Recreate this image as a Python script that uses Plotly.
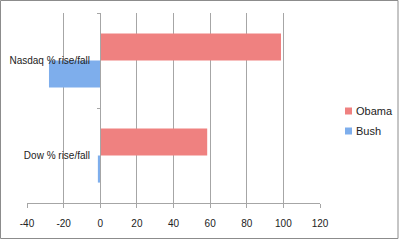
import plotly.graph_objects as go

categories = ["Dow % rise/fall", "Nasdaq % rise/fall"]
bush = [-1.3, -28]
obama = [58.4, 98.7]
x_ticks = [-40, -20, 0, 20, 40, 60, 80, 100, 120]
x_tick_labels = ["-40", "-20", "0", "20", "40", "60", "80", "100", "120"]
series_names = ["Obama", "Bush"]
series_colors = ["#ef8180", "#7eaeec"]

W, H = 400, 241
ml, mr, mt, mb = 27, 80, 13, 38
pw, ph = W - ml - mr, H - mt - mb

family = "Liberation Sans, Arial, sans-serif"
font = dict(family=family, size=10, color="#222")

fig = go.Figure()
fig.add_trace(go.Bar(y=categories, x=bush, name=series_names[1], orientation="h",
                     marker=dict(color=series_colors[1], line=dict(width=0))))
fig.add_trace(go.Bar(y=categories, x=obama, name=series_names[0], orientation="h",
                     marker=dict(color=series_colors[0], line=dict(width=0))))

def px_to_paper_x(px):
    return (px - ml) / pw

def px_to_paper_y(py):
    return (H - mb - py) / ph

fig.add_shape(type="rect", xref="paper", yref="paper",
              x0=px_to_paper_x(0.5), x1=px_to_paper_x(398),
              y0=px_to_paper_y(238.5), y1=px_to_paper_y(0.5),
              line=dict(color="#8c8c8c", width=1), layer="below")

# manual legend (compact, like the original)
for i, (name, col) in enumerate(zip(series_names, series_colors)):
    cy = 111 + 20 * i
    fig.add_shape(type="rect", xref="paper", yref="paper",
                  x0=px_to_paper_x(345), x1=px_to_paper_x(352),
                  y0=px_to_paper_y(cy + 3.5), y1=px_to_paper_y(cy - 3.5),
                  fillcolor=col, line=dict(width=0))
    fig.add_annotation(xref="paper", yref="paper", x=px_to_paper_x(354),
                       y=px_to_paper_y(cy), text=name, showarrow=False,
                       xanchor="left", yanchor="middle",
                       font=dict(family=family, size=11, color="#222"))

fig.update_layout(
    width=W, height=H,
    margin=dict(l=ml, r=mr, t=mt, b=mb, autoexpand=False),
    paper_bgcolor="white", plot_bgcolor="white",
    barmode="group", bargap=0.43, bargroupgap=0,
    font=font,
    showlegend=False,
    xaxis=dict(range=[-40, 120], tickvals=x_ticks, ticktext=x_tick_labels,
               showgrid=True, automargin=False,
               gridcolor="#a6a6a6", gridwidth=1, zeroline=False,
               showline=True, linecolor="#a6a6a6", linewidth=1,
               ticks="outside", ticklen=4, tickcolor="#a6a6a6",
               tickfont=font, fixedrange=True, ticklabelstandoff=7),
    yaxis=dict(type="category", categoryorder="array", categoryarray=categories,
               anchor="free", position=(100 - ml) / pw, automargin=False,
               showline=True, linecolor="#a6a6a6", linewidth=1,
               ticks="outside", ticklen=3, tickcolor="#a6a6a6",
               tickson="boundaries", showgrid=False, zeroline=False,
               tickfont=dict(size=10, family=family, color="#222"),
               ticklabelstandoff=8),
)

fig.write_html("out.html")
